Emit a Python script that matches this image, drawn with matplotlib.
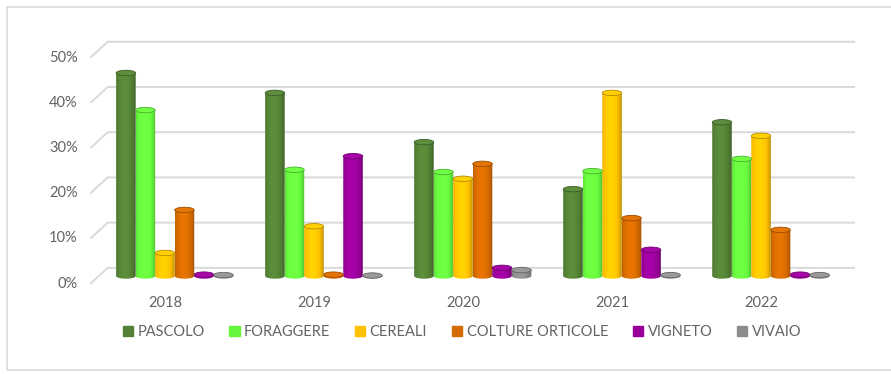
import numpy as np
import matplotlib
matplotlib.use("Agg")
import matplotlib.pyplot as plt
from matplotlib.patches import Ellipse, PathPatch, Rectangle
from matplotlib.path import Path
from matplotlib.colors import to_rgb

plt.rcParams['font.family'] = ['Lato', 'DejaVu Sans']

years = ['2018', '2019', '2020', '2021', '2022']
series = ['PASCOLO', 'FORAGGERE', 'CEREALI', 'COLTURE ORTICOLE', 'VIGNETO', 'VIVAIO']
colors = ['#538135', '#66F53D', '#FFC000', '#D46A00', '#990099', '#8C8C8C']

pascolo = [0.449, 0.405, 0.296, 0.192, 0.340]
foraggere = [0.367, 0.235, 0.230, 0.232, 0.259]
cereali = [0.051, 0.110, 0.215, 0.405, 0.310]
colture = [0.146, 0.003, 0.248, 0.128, 0.102]
vigneto = [0.003, 0.265, 0.018, 0.058, 0.003]
vivaio = [0.002, 0.001, 0.013, 0.002, 0.002]
values = [pascolo, foraggere, cereali, colture, vigneto, vivaio]

yticks = [0, 0.1, 0.2, 0.3, 0.4, 0.5]
ytick_labels = ['0%', '10%', '20%', '30%', '40%', '50%']

W, H = 891, 374
fig = plt.figure(figsize=(W / 100, H / 100), dpi=100)

# outer chart frame
fig.patches.append(Rectangle((7 / W, 4 / H), 1.2, (H - 11) / H, transform=fig.transFigure,
                             facecolor='none', edgecolor='#d9d9d9', lw=1.2, zorder=0))

ax = fig.add_axes([90.5 / W, (H - 290) / H, (855 - 90.5) / W, 255 / H])
ax.set_xlim(-0.5, 4.63)
ax.set_ylim(-0.031, 0.533)
ax.axis('off')

txt = '#636363'
# perspective gridlines: short diagonal at the front, then along the back wall
dy_front, dy_back, dx_back = -0.017, 0.018, 0.115
for v, lab in zip(yticks, ytick_labels):
    ax.plot([-0.5, -0.5 + dx_back, 4.63], [v + dy_front, v + dy_back, v + dy_back],
            color='#d9d9d9', lw=1.4, zorder=1, clip_on=False, solid_capstyle='butt')
    ax.text(-0.585, v + dy_front, lab, ha='right', va='center', fontsize=10.5, color=txt)

for i, y in enumerate(years):
    ax.text(i, -0.045, y, ha='center', va='top', fontsize=10.5, color=txt)

bw = 0.131
eh = 0.012
shift = 0.065
t = np.linspace(0, 1, 64)
shade = 0.65 + 0.45 * np.sin(np.pi * (0.12 + 0.88 * t)) ** 0.5
shade = np.clip(shade, 0, 1.1)
ang = np.linspace(np.pi, 2 * np.pi, 40)

for j, (vals, c) in enumerate(zip(values, colors)):
    base = np.array(to_rgb(c))
    grad = np.clip(base[None, :] * shade[:, None], 0, 1)[None, :, :]
    for i, v in enumerate(vals):
        xc = i + (j - 2.5) * bw + shift
        x0, x1 = xc - bw / 2, xc + bw / 2
        verts = [(x0, v), (x0, 0)]
        verts += list(zip(xc + bw / 2 * np.cos(ang), eh / 2 * np.sin(ang)))
        verts += [(x1, 0), (x1, v), (x0, v)]
        body = PathPatch(Path(verts), facecolor='none', edgecolor='none')
        ax.add_patch(body)
        im = ax.imshow(grad, extent=(x0, x1, -eh, v), aspect='auto', zorder=2 + i * 0.01,
                       interpolation='bilinear')
        im.set_clip_path(body)
        cap = np.clip(base * 1.06 + 0.02, 0, 1)
        ax.add_patch(Ellipse((xc, v), bw, eh, facecolor=cap, edgecolor=base * 0.72,
                             lw=0.6, zorder=2.005 + i * 0.01))

handles = [Rectangle((0, 0), 1, 1, color=c) for c in colors]
fig.legend(handles, series, loc='center', bbox_to_anchor=(462 / W, 1 - 332 / H), ncol=6,
           frameon=False, handlelength=0.7, handleheight=0.7, handletextpad=0.3,
           columnspacing=1.7, fontsize=10.5, labelcolor=txt)

fig.savefig('out.png', dpi=100)
